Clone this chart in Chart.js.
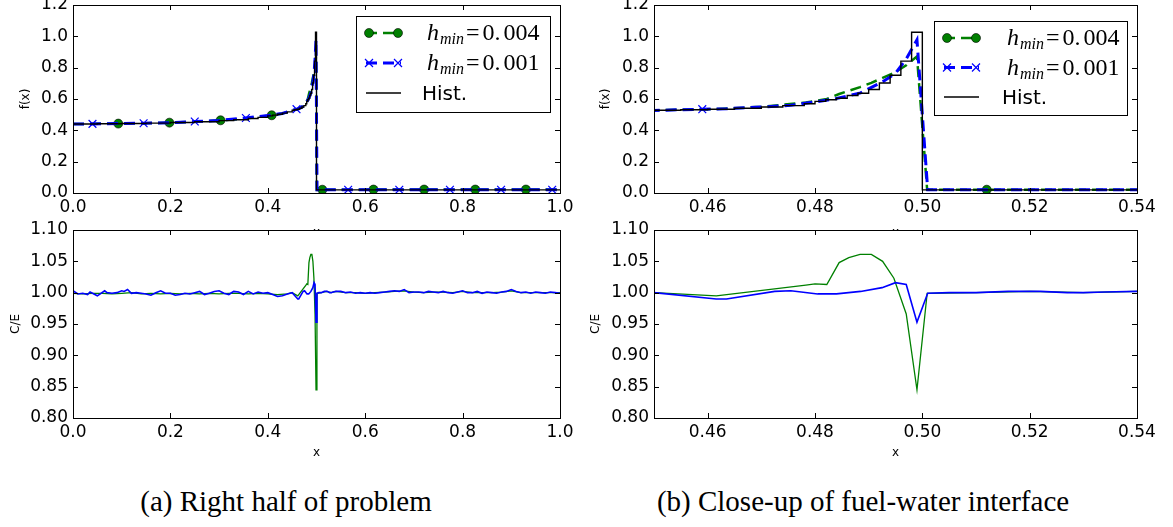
<!DOCTYPE html>
<html><head><meta charset="utf-8">
<script src="https://cdn.jsdelivr.net/npm/chart.js@4.4.1/dist/chart.umd.min.js"></script>
<style>
html,body{margin:0;padding:0;background:#fff;}
#wrap{position:relative;width:1173px;height:527px;overflow:hidden;background:#fff;}
canvas{position:absolute;}
.cap{position:absolute;top:485px;font-family:"Liberation Serif","Times New Roman",serif;font-size:29px;line-height:32px;color:#000;white-space:nowrap;transform:translateX(-50%);}
</style></head><body>
<div id="wrap">
<canvas id="cTL"></canvas>
<canvas id="cTR"></canvas>
<canvas id="cBL"></canvas>
<canvas id="cBR"></canvas>
<div class="cap" id="capA" style="left:286px"></div>
<div class="cap" id="capB" style="left:863px"></div>
</div>
<script>
// ---------------- data ----------------
const captions = ["(a) Right half of problem", "(b) Close-up of fuel-water interface"];
const fLabel = "f(x)", ceLabel = "C/E", xLabel = "x";
const legendText = [
  {main: "h", sub: "min", val: "0.004"},
  {main: "h", sub: "min", val: "0.001"},
  {plain: "Hist."}
];
const ticksXFull = [0, 0.2, 0.4, 0.6, 0.8, 1.0];
const ticksXZoom = [0.46, 0.48, 0.50, 0.52, 0.54];
const ticksYf = [0, 0.2, 0.4, 0.6, 0.8, 1.0, 1.2];
const ticksYce = [0.80, 0.85, 0.90, 0.95, 1.00, 1.05, 1.10];

// histogram (bin left edges / values)
const histX = [0,0.05,0.1,0.15,0.2,0.25,0.3,0.33,0.36,0.38,0.4,0.41,0.42,0.43,0.44,0.45,0.455,0.46,0.465,0.47,0.474,0.478,0.48,0.482,0.484,0.486,0.488,0.49,0.492,0.494,0.496,0.498,0.5,1.0];
const histY = [0.440,0.442,0.444,0.446,0.450,0.455,0.462,0.468,0.476,0.483,0.492,0.497,0.503,0.510,0.518,0.528,0.531,0.535,0.541,0.549,0.558,0.570,0.585,0.595,0.605,0.622,0.637,0.661,0.702,0.752,0.842,1.026,0.020,0.020];

// h_min = 0.004
const f004X = [0,0.05,0.093,0.15,0.198,0.25,0.303,0.35,0.408,0.43,0.45,0.4616,0.47,0.4783,0.4822,0.4845,0.4863,0.4884,0.4905,0.4926,0.4947,0.497,0.499,0.5009,0.512,0.56,0.617,0.67,0.721,0.77,0.826,0.88,0.93,1.0];
const f004Y = [0.440,0.442,0.443,0.446,0.449,0.455,0.464,0.474,0.496,0.507,0.528,0.536,0.550,0.578,0.600,0.632,0.652,0.676,0.703,0.735,0.766,0.815,0.872,0.020,0.021,0.021,0.022,0.022,0.022,0.022,0.022,0.022,0.022,0.022];
const marks004 = [0.093,0.198,0.303,0.408,0.512,0.617,0.721,0.826,0.93];

// h_min = 0.001
const f001X = [0,0.04,0.1,0.145,0.2,0.25,0.3,0.355,0.4,0.43,0.45,0.459,0.4635,0.4725,0.4755,0.4805,0.484,0.4885,0.4925,0.495,0.497,0.499,0.501,0.52,0.565,0.62,0.67,0.72,0.774,0.83,0.879,0.93,0.984,1.0];
const f001Y = [0.440,0.441,0.444,0.445,0.449,0.456,0.463,0.479,0.494,0.508,0.527,0.535,0.538,0.553,0.560,0.584,0.603,0.639,0.708,0.764,0.855,0.978,0.020,0.020,0.021,0.021,0.021,0.021,0.021,0.021,0.021,0.021,0.021,0.021];
const marks001 = [0.04,0.145,0.25,0.355,0.459,0.565,0.67,0.774,0.879,0.984];

// C/E, h_min = 0.004
const ce004X = [0,0.02,0.04,0.06,0.08,0.1,0.12,0.14,0.16,0.18,0.2,0.22,0.24,0.26,0.28,0.3,0.32,0.34,0.36,0.38,0.4,0.42,0.44,0.45,0.4616,0.4783,0.48,0.4822,0.4845,0.4863,0.4884,0.4905,0.4926,0.4947,0.497,0.499,0.5009,0.51,0.52,0.53,0.54,0.56,0.58,0.6,0.62,0.64,0.66,0.68,0.7,0.72,0.74,0.76,0.78,0.8,0.82,0.84,0.86,0.88,0.9,0.92,0.94,0.96,0.98,1.0];
const ce004Y = [0.999,0.998,0.999,0.999,0.998,0.999,1.0,0.998,0.999,0.998,0.999,0.998,0.999,0.998,0.999,0.998,0.999,0.999,0.998,0.999,0.998,0.997,0.998,1.0,0.995,1.012,1.014,1.013,1.048,1.056,1.061,1.061,1.05,1.023,0.966,0.845,0.999,1.0,1.002,1.0,1.002,1.0,1.0,0.999,1.0,1.001,1.002,1.003,1.001,1.0,1.001,1.001,1.0,1.002,1.0,1.0,1.0,1.001,1.003,1.0,1.0,1.0,1.0,1.0];

// C/E, h_min = 0.001
const ce001X = [0,0.01,0.02,0.03,0.035,0.05,0.065,0.07,0.08,0.09,0.1,0.105,0.112,0.12,0.13,0.14,0.15,0.16,0.17,0.18,0.19,0.2,0.21,0.22,0.23,0.24,0.25,0.26,0.27,0.28,0.29,0.3,0.31,0.32,0.33,0.34,0.35,0.36,0.37,0.38,0.39,0.4,0.41,0.42,0.43,0.44,0.45,0.4616,0.4635,0.4725,0.4755,0.4805,0.484,0.4885,0.4925,0.495,0.497,0.499,0.501,0.505,0.51,0.516,0.522,0.527,0.53,0.534,0.54,0.55,0.56,0.57,0.58,0.59,0.6,0.61,0.62,0.63,0.64,0.65,0.66,0.67,0.68,0.69,0.7,0.71,0.72,0.73,0.74,0.75,0.76,0.77,0.78,0.79,0.8,0.81,0.82,0.83,0.84,0.85,0.86,0.87,0.88,0.89,0.9,0.91,0.92,0.93,0.94,0.95,0.96,0.97,0.98,0.99,1.0];
const ce001Y = [1.003,0.998,0.999,0.997,1.001,0.995,1.003,1.0,0.999,1.0,1.003,1.002,1.005,0.999,1.0,0.999,0.998,0.996,1.0,1.003,0.999,0.999,0.996,0.997,0.999,0.998,1.0,1.002,0.997,0.999,1.002,1.003,0.999,0.997,1.002,1.001,0.997,1.002,0.998,1.001,0.999,1.0,0.997,0.994,0.995,0.998,1.0,0.990,0.990,1.002,1.003,0.998,0.998,1.002,1.008,1.016,1.013,0.953,0.999,1.0,1.0,1.002,1.002,1.0,1.0,1.001,1.002,1.002,1.0,1.001,0.999,1.0,0.999,1.0,0.999,1.0,1.001,1.002,1.003,1.002,1.005,1.0,1.001,1.001,1.0,1.002,1.001,1.0,1.002,1.0,0.999,1.001,1.003,1.0,1.0,1.002,0.999,1.001,1.0,0.999,1.001,1.002,1.005,1.002,1.0,1.001,0.999,1.001,1.0,0.999,1.001,1.0,0.999];

// ---------------- styling ----------------
const GREEN = '#008000', BLUE = '#0000ff';
const TICK_FONT = {family: 'DejaVu Sans', size: 17};
const TITLE_FONT = {family: 'DejaVu Sans', size: 12};

function pts(xs, ys) { return xs.map((x, i) => ({x: x, y: ys[i]})); }
function markR(list, r) { const s = new Set(list); return c => (c.raw && s.has(c.raw.x)) ? r : 0; }

const deco = {
  id: 'deco',
  beforeDraw(chart) {
    const {ctx, chartArea: a} = chart;
    ctx.save(); ctx.fillStyle = '#fff';
    ctx.fillRect(a.left, a.top, a.right - a.left, a.bottom - a.top);
    ctx.restore();
  },
  afterDatasetsDraw(chart) {
    const {ctx, chartArea: a, scales} = chart;
    const T = 5;
    ctx.save();
    ctx.strokeStyle = '#000'; ctx.lineWidth = 1;
    const seg = (x1, y1, x2, y2) => { ctx.beginPath(); ctx.moveTo(x1, y1); ctx.lineTo(x2, y2); ctx.stroke(); };
    scales.x.ticks.forEach(t => {
      const p = Math.round(scales.x.getPixelForValue(t.value)) + 0.5;
      seg(p, a.bottom, p, a.bottom - T); seg(p, a.top, p, a.top + T);
    });
    scales.y.ticks.forEach(t => {
      const p = Math.round(scales.y.getPixelForValue(t.value)) + 0.5;
      seg(a.left, p, a.left + T, p); seg(a.right, p, a.right - T, p);
    });
    ctx.strokeRect(Math.round(a.left) + 0.5, Math.round(a.top) + 0.5, Math.round(a.right - a.left), Math.round(a.bottom - a.top));
    ctx.restore();
  },
  afterDraw(chart, args, o) {
    if (!o || !o.legend) return;
    const L = o.legend, ctx = chart.ctx;
    ctx.save();
    ctx.fillStyle = '#fff'; ctx.fillRect(L.x, L.y, L.w, L.h);
    ctx.strokeStyle = '#000'; ctx.lineWidth = 1;
    ctx.strokeRect(L.x + 0.5, L.y + 0.5, L.w, L.h);
    chart.data.datasets.forEach((ds, i) => {
      const y = L.y + L.r0 + i * L.dy;
      const x0 = L.x + L.s0, x1 = L.x + L.s1;
      ctx.strokeStyle = ds.borderColor; ctx.lineWidth = ds.borderWidth;
      ctx.setLineDash(ds.borderDash || []);
      ctx.beginPath(); ctx.moveTo(x0, y); ctx.lineTo(x1, y); ctx.stroke();
      ctx.setLineDash([]);
      [x0 + 3, x1 - 3].forEach(mx => {
        if (ds.pointStyle === 'circle' && ds.legendMarker) {
          ctx.beginPath(); ctx.arc(mx, y, 4.5, 0, Math.PI * 2);
          ctx.fillStyle = ds.pointBackgroundColor; ctx.fill();
          ctx.strokeStyle = '#000'; ctx.lineWidth = 0.6; ctx.stroke();
        } else if (ds.pointStyle === 'crossRot' && ds.legendMarker) {
          const d = 4;
          ctx.strokeStyle = ds.pointBorderColor; ctx.lineWidth = 1.2;
          ctx.beginPath(); ctx.moveTo(mx - d, y - d); ctx.lineTo(mx + d, y + d);
          ctx.moveTo(mx - d, y + d); ctx.lineTo(mx + d, y - d); ctx.stroke();
        }
      });
      const t = legendText[i];
      let x = L.x + L.t0;
      const base = y + 7;
      ctx.fillStyle = '#000'; ctx.textBaseline = 'alphabetic'; ctx.textAlign = 'left';
      if (t.plain) {
        ctx.font = '20px "DejaVu Sans"';
        ctx.fillText(t.plain, x - 5, base);
      } else {
        ctx.font = 'italic 24px "Liberation Serif"';
        ctx.fillText(t.main, x, base); x += ctx.measureText(t.main).width + 1;
        ctx.font = 'italic 16px "Liberation Serif"';
        ctx.fillText(t.sub, x, base + 4); x += ctx.measureText(t.sub).width + 2;
        ctx.font = '24px "Liberation Serif"';
        ctx.fillText('=', x, base); x += ctx.measureText('=').width + 3;
        const parts = t.val.split('.');
        ctx.fillText(parts[0] + '.', x, base); x += ctx.measureText(parts[0] + '.').width + 3;
        ctx.fillText(parts[1], x, base);
      }
    });
    ctx.restore();
  }
};

function panel(id, o) {
  const cv = document.getElementById(id);
  cv.width = o.w; cv.height = o.h;
  cv.style.left = o.left + 'px'; cv.style.top = o.top + 'px';
  return new Chart(cv, {
    type: 'line',
    data: {datasets: o.datasets},
    plugins: [deco],
    options: {
      responsive: false, animation: false, events: [],
      layout: {padding: o.pad},
      plugins: {legend: {display: false}, tooltip: {enabled: false}, deco: {legend: o.legend}},
      scales: {
        x: {
          type: 'linear', min: o.xmin, max: o.xmax,
          afterBuildTicks: s => { s.ticks = o.xticks.map(v => ({value: v})); },
          afterFit: s => { s.height = o.xh; s.paddingLeft = 0; s.paddingRight = 0; },
          grid: {display: false, drawTicks: false}, border: {display: false},
          ticks: {padding: 4, font: TICK_FONT, color: '#000', autoSkip: false, maxRotation: 0,
                  callback: v => v.toFixed(o.xdec)},
          title: {display: true, text: xLabel, font: TITLE_FONT, color: '#000', padding: {top: 0, bottom: 0}}
        },
        y: {
          type: 'linear', min: o.ymin, max: o.ymax,
          afterBuildTicks: s => { s.ticks = o.yticks.map(v => ({value: v})); },
          afterFit: s => { s.width = o.yw; s.paddingTop = 0; s.paddingBottom = 0; },
          grid: {display: false, drawTicks: false}, border: {display: false},
          ticks: {padding: 5, font: TICK_FONT, color: '#000', autoSkip: false,
                  callback: v => v.toFixed(o.ydec)},
          title: {display: true, text: o.ytitle, font: TITLE_FONT, color: '#000', padding: {top: o.ytp, bottom: 0}}
        }
      }
    }
  });
}

function fSets() {
  return [
    {label: 'h004', data: pts(f004X, f004Y), borderColor: GREEN, borderWidth: 2.5, borderDash: [11, 6],
     pointStyle: 'circle', pointRadius: markR(marks004, 4.5), pointHoverRadius: 0,
     pointBackgroundColor: GREEN, pointBorderColor: '#000', pointBorderWidth: 0.6, order: 3, clip: 0, legendMarker: true},
    {label: 'h001', data: pts(f001X, f001Y), borderColor: BLUE, borderWidth: 3, borderDash: [11, 6],
     pointStyle: 'crossRot', pointRadius: markR(marks001, 5.5), pointHoverRadius: 0,
     pointBackgroundColor: BLUE, pointBorderColor: BLUE, pointBorderWidth: 1.2, order: 2, clip: 0, legendMarker: true},
    {label: 'hist', data: pts(histX, histY), borderColor: '#000', borderWidth: 1.4, stepped: 'before',
     pointRadius: 0, pointHoverRadius: 0, order: 1, clip: 0}
  ];
}
function ceSets() {
  return [
    {label: 'ce004', data: pts(ce004X, ce004Y), borderColor: GREEN, borderWidth: 1.3, pointRadius: 0, pointHoverRadius: 0, order: 2, clip: 0},
    {label: 'ce001', data: pts(ce001X, ce001Y), borderColor: BLUE, borderWidth: 1.6, pointRadius: 0, pointHoverRadius: 0, order: 1, clip: 0}
  ];
}

function build() {
  document.getElementById('capA').textContent = captions[0];
  document.getElementById('capB').textContent = captions[1];
  panel('cTL', {left: 0, top: 0, w: 580, h: 245, pad: {top: 5, right: 20, bottom: 5, left: 0},
    xmin: 0, xmax: 1, xticks: ticksXFull, xdec: 1, xh: 47,
    ymin: 0, ymax: 1.2, yticks: ticksYf, ydec: 1, yw: 73, ytitle: fLabel, ytp: 19,
    datasets: fSets(),
    legend: {x: 356, y: 16, w: 194, h: 96, r0: 17, dy: 30, s0: 10, s1: 45, t0: 71}});
  panel('cTR', {left: 580, top: 0, w: 593, h: 245, pad: {top: 5, right: 36, bottom: 5, left: 0},
    xmin: 0.45, xmax: 0.54, xticks: ticksXZoom, xdec: 2, xh: 47,
    ymin: 0, ymax: 1.2, yticks: ticksYf, ydec: 1, yw: 74, ytitle: fLabel, ytp: 19,
    datasets: fSets(),
    legend: {x: 354, y: 21, w: 193, h: 94, r0: 17, dy: 29.5, s0: 10, s1: 45, t0: 73}});
  panel('cBL', {left: 0, top: 215, w: 580, h: 245, pad: {top: 15, right: 20, bottom: 0, left: 0},
    xmin: 0, xmax: 1, xticks: ticksXFull, xdec: 1, xh: 42,
    ymin: 0.8, ymax: 1.1, yticks: ticksYce, ydec: 2, yw: 73, ytitle: ceLabel, ytp: 9,
    datasets: ceSets(), legend: null});
  panel('cBR', {left: 580, top: 215, w: 593, h: 245, pad: {top: 15, right: 36, bottom: 0, left: 0},
    xmin: 0.45, xmax: 0.54, xticks: ticksXZoom, xdec: 2, xh: 42,
    ymin: 0.8, ymax: 1.1, yticks: ticksYce, ydec: 2, yw: 74, ytitle: ceLabel, ytp: 9,
    datasets: ceSets(), legend: null});
}

const fontLoads = ['17px "DejaVu Sans"', 'italic 24px "Liberation Serif"', '24px "Liberation Serif"', '29px "Liberation Serif"']
  .map(f => document.fonts ? document.fonts.load(f) : Promise.resolve());
Promise.all(fontLoads).then(build, build);
</script>
</body></html>
